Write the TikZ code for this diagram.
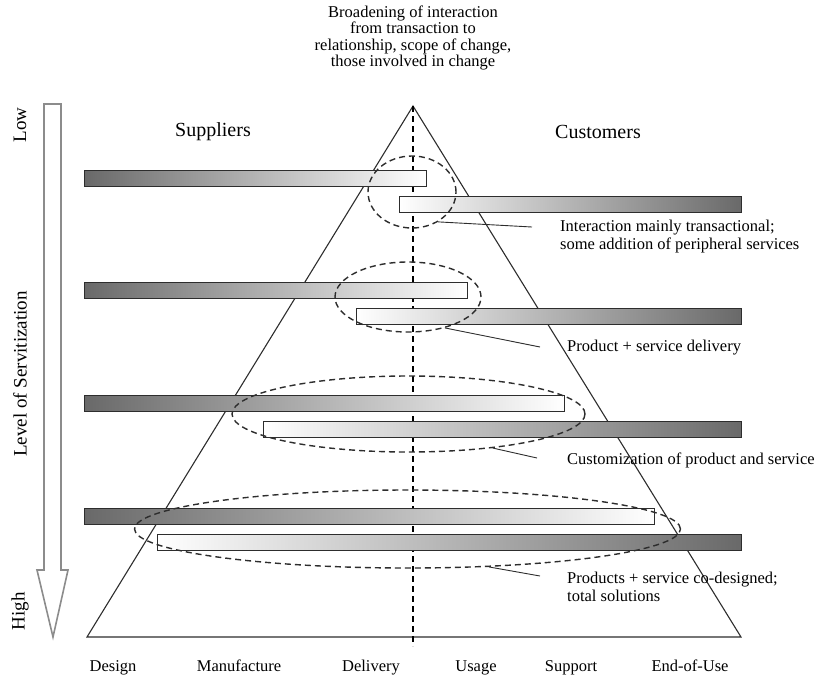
\documentclass[tikz,border=0pt]{standalone}
\usepackage{fontspec}
\setmainfont{Liberation Serif}
\usepackage{tikz}
\usetikzlibrary{positioning,shapes.geometric,calc}
\definecolor{barcolor}{RGB}{105,105,105}
\definecolor{edgecolor}{RGB}{45,45,45}
\definecolor{arrowcolor}{RGB}{140,140,140}

\begin{document}
\begin{tikzpicture}[x=1pt, y=-1pt,
  supbar/.style = {rectangle, draw=edgecolor, line width=0.9pt,
                   left color=barcolor, middle color=black!20, right color=white,
                   minimum height=16pt, inner sep=0pt, anchor=west},
  cusbar/.style = {rectangle, draw=edgecolor, line width=0.9pt,
                   left color=white, middle color=black!20, right color=barcolor,
                   minimum height=16pt, inner sep=0pt, anchor=east},
  zone/.style   = {ellipse, draw=edgecolor, dash pattern=on 6pt off 4pt,
                   line width=1.4pt, inner sep=0pt},
  note/.style   = {font=\fontsize{16.5}{18}\selectfont, align=left,
                   anchor=west, inner sep=0pt},
  stage/.style  = {font=\fontsize{16.5}{18}\selectfont, inner sep=0pt},
  vlabel/.style = {font=\fontsize{19}{20}\selectfont, inner sep=0pt, rotate=90},
  side/.style   = {font=\fontsize{20}{22}\selectfont, inner sep=0pt},
  leader/.style = {edgecolor, line width=0.9pt}
]
\useasboundingbox (0,0) rectangle (821,678);

% pyramid and centre axis
\coordinate (apex) at (413,106);
\coordinate (bl)   at (87,637);
\coordinate (br)   at (741,637);
\draw[edgecolor, line width=1.1pt] (bl) -- (apex) -- (br) -- cycle;
\draw[black, line width=1.2pt, dash pattern=on 6pt off 4pt] (apex) -- (413,646);

\node[font=\fontsize{16.5}{16.3}\selectfont, align=center, inner sep=0pt]
  (title) at (413,38)
  {Broadening of interaction\\from transaction to\\relationship, scope of change,\\those involved in change};

\node[side] (sup) at (213,132) {Suppliers};
\node[side] (cus) at (598,132) {Customers};

% servitization arrow
\draw[arrowcolor, line width=1.6pt, fill=white]
  (44,104) -- (61,104) -- (61,570) -- (68,570) -- (53,637)
  -- (37,570) -- (44,570) -- cycle;
\node[vlabel] (low)  at (20,125) {Low};
\node[vlabel] (lvl)  at (20,374) {Level of Servitization};
\node[vlabel] (high) at (20,611) {High};

% bars: row / supplier y / supplier end / customer y / customer start
\foreach \i/\ys/\xs/\yc/\xc in {
    1/178/426/204/400,
    2/290.5/467/316.5/357,
    3/403.5/564/429.5/264,
    4/516.5/654/542.5/158}{
  \node[supbar, minimum width={\xs pt-84pt}] (s\i) at (84,\ys) {};
  \node[cusbar, minimum width={742pt-\xc pt}] (c\i) at (742,\yc) {};
}

% interaction zones
\node[zone, minimum width=88pt,  minimum height=72pt] (z1) at (412,192) {};
\node[zone, minimum width=146pt, minimum height=70pt] (z2) at (408,297) {};
\node[zone, minimum width=353pt, minimum height=76pt] (z3) at (408.5,414) {};
\node[zone, minimum width=546pt, minimum height=78pt] (z4) at (407.5,529) {};

% notes
\node[note] (n1) at (560,237)
  {Interaction mainly transactional;\\some addition of peripheral services};
\node[note] (n2) at (567,348) {Product + service delivery};
\node[note] (n3) at (567,460) {Customization of product and service};
\node[note] (n4) at (567,587) {Products + service co-designed;\\total solutions};

\coordinate (t1) at (532,227);
\coordinate (t2) at (540,347);
\coordinate (t3) at (537,458);
\coordinate (t4) at (540,576);
\draw[leader] (z1.-49) -- (t1);
\draw[leader] (z2.-40) -- (t2);
\draw[leader] (z3.-22) -- (t3);
\draw[leader] (z4.-25) -- (t4);

% life-cycle stages
\foreach \x/\name in {113/Design, 239/Manufacture, 371/Delivery,
                      476/Usage, 571/Support, 690/End-of-Use}{
  \node[stage, anchor=base] (st\x) at (\x,671) {\name};
}
\end{tikzpicture}
\end{document}
